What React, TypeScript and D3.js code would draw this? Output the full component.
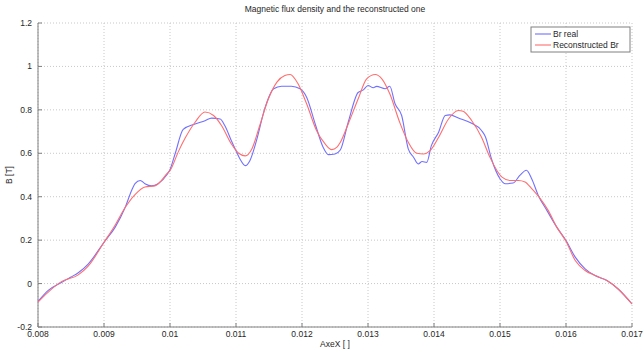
import * as d3 from "d3";

const xTicks = [0.008, 0.009, 0.01, 0.011, 0.012, 0.013, 0.014, 0.015, 0.016, 0.017];
const yTicks = [-0.2, 0, 0.2, 0.4, 0.6, 0.8, 1, 1.2];

const realX = [0.008, 0.00816, 0.00836, 0.0085, 0.00861, 0.00876, 0.009, 0.00917, 0.00932, 0.00942, 0.00947, 0.00955, 0.00962, 0.00972, 0.00982, 0.00995, 0.01, 0.01008, 0.0102, 0.01038, 0.01053, 0.01063, 0.01076, 0.01083, 0.01093, 0.011, 0.01106, 0.01114, 0.01121, 0.01131, 0.01144, 0.01157, 0.01169, 0.01184, 0.01197, 0.01207, 0.0122, 0.01232, 0.0124, 0.0125, 0.01258, 0.0127, 0.01285, 0.01293, 0.013, 0.01308, 0.01313, 0.01326, 0.01333, 0.01341, 0.01351, 0.01361, 0.01369, 0.01376, 0.01382, 0.01389, 0.01396, 0.01407, 0.01417, 0.01424, 0.01437, 0.01457, 0.01472, 0.01478, 0.01487, 0.015, 0.01508, 0.0152, 0.0153, 0.0154, 0.01548, 0.01558, 0.01571, 0.01586, 0.016, 0.01614, 0.01629, 0.01644, 0.01662, 0.01679, 0.017];
const realB = [-0.082, -0.03, 0.006, 0.03, 0.05, 0.09, 0.19, 0.26, 0.35, 0.43, 0.46, 0.475, 0.46, 0.45, 0.46, 0.5, 0.525, 0.6, 0.71, 0.735, 0.75, 0.762, 0.758, 0.728, 0.658, 0.612, 0.574, 0.543, 0.566, 0.658, 0.81, 0.897, 0.909, 0.909, 0.897, 0.858, 0.735, 0.628, 0.594, 0.597, 0.615, 0.743, 0.88, 0.892, 0.912, 0.902, 0.908, 0.897, 0.909, 0.828, 0.774, 0.62, 0.582, 0.551, 0.562, 0.558, 0.635, 0.697, 0.774, 0.777, 0.762, 0.738, 0.705, 0.675, 0.575, 0.483, 0.46, 0.463, 0.498, 0.522, 0.483, 0.406, 0.337, 0.26, 0.198, 0.122, 0.068, 0.037, 0.014, -0.025, -0.094];

const recX = [0.008, 0.00836, 0.00861, 0.00876, 0.009, 0.00917, 0.00932, 0.00947, 0.00962, 0.00977, 0.00987, 0.00995, 0.01, 0.01013, 0.01023, 0.01038, 0.01053, 0.01066, 0.01078, 0.01093, 0.01104, 0.01114, 0.01124, 0.01136, 0.01149, 0.01162, 0.01174, 0.01182, 0.01194, 0.01207, 0.01222, 0.01235, 0.01245, 0.01253, 0.01258, 0.0127, 0.01285, 0.01298, 0.01311, 0.01321, 0.01333, 0.01348, 0.01361, 0.01374, 0.01384, 0.01394, 0.01407, 0.01422, 0.01437, 0.01444, 0.01457, 0.01472, 0.01485, 0.01503, 0.01515, 0.01528, 0.01538, 0.01548, 0.01561, 0.01573, 0.01586, 0.016, 0.01614, 0.01629, 0.01644, 0.01662, 0.01679, 0.017];
const recB = [-0.085, 0.01, 0.04, 0.08, 0.19, 0.27, 0.35, 0.41, 0.445, 0.45, 0.475, 0.505, 0.52, 0.61, 0.67, 0.743, 0.79, 0.774, 0.728, 0.643, 0.6, 0.588, 0.62, 0.728, 0.85, 0.928, 0.958, 0.963, 0.92, 0.828, 0.705, 0.643, 0.617, 0.628, 0.65, 0.735, 0.85, 0.943, 0.963, 0.943, 0.874, 0.743, 0.651, 0.6, 0.597, 0.612, 0.674, 0.758, 0.797, 0.794, 0.751, 0.674, 0.58, 0.49, 0.475, 0.475, 0.468, 0.437, 0.391, 0.337, 0.26, 0.195, 0.106, 0.06, 0.037, 0.014, -0.025, -0.094];

const W = 643;
const H = 354;
const left = 38;
const right = 632;
const top = 23;
const bottom = 327;
const font = "'Liberation Sans', Arial, sans-serif";

export default function App() {
  const x = d3.scaleLinear().domain([0.008, 0.017]).range([left, right]);
  const y = d3.scaleLinear().domain([-0.2, 1.2]).range([bottom, top]);

  const line = (xs: number[], ys: number[]) =>
    d3
      .line<number>()
      .x((_, i) => x(xs[i]))
      .y((d) => y(d))
      .curve(d3.curveMonotoneX)(ys) || "";

  const fmt = (v: number) => String(+v.toFixed(3));

  return (
    <svg
      width={W}
      height={H}
      style={{ position: "fixed", left: 0, top: 0, background: "#fff" }}
      fontFamily={font}
    >
      {/* grid */}
      {xTicks.map((t) => (
        <line key={"gx" + t} x1={x(t)} x2={x(t)} y1={top} y2={bottom} stroke="#c8c8c8" strokeWidth={1} strokeDasharray="1,2" />
      ))}
      {yTicks.map((t) => (
        <line key={"gy" + t} x1={left} x2={right} y1={y(t)} y2={y(t)} stroke="#c8c8c8" strokeWidth={1} strokeDasharray="1,2" />
      ))}

      {/* axes */}
      <line x1={left} x2={left} y1={top} y2={bottom} stroke="#808080" />
      <line x1={left} x2={right} y1={bottom} y2={bottom} stroke="#808080" />
      {xTicks.map((t) => (
        <line key={"tx" + t} x1={x(t)} x2={x(t)} y1={bottom} y2={bottom - 4} stroke="#808080" />
      ))}
      {yTicks.map((t) => (
        <line key={"ty" + t} x1={left} x2={left + 4} y1={y(t)} y2={y(t)} stroke="#808080" />
      ))}

      {/* tick labels */}
      {xTicks.map((t) => (
        <text key={"lx" + t} x={x(t)} y={bottom + 10} fontSize={8.5} textAnchor="middle" fill="#262626">
          {fmt(t)}
        </text>
      ))}
      {yTicks.map((t) => (
        <text key={"ly" + t} x={left - 6} y={y(t) + 3} fontSize={8.5} textAnchor="end" fill="#262626">
          {fmt(t)}
        </text>
      ))}

      {/* series */}
      <path d={line(realX, realB)} fill="none" stroke="#7070ff" strokeWidth={1.1} />
      <path d={line(recX, recB)} fill="none" stroke="#ff6e6e" strokeWidth={1.1} />

      {/* title and labels */}
      <text x={(left + right) / 2} y={12} fontSize={8.5} textAnchor="middle" fill="#262626">
        Magnetic flux density and the reconstructed one
      </text>
      <text x={(left + right) / 2} y={347} fontSize={8.5} textAnchor="middle" fill="#262626">
        AxeX [ ]
      </text>
      <text transform={`translate(12,${(top + bottom) / 2}) rotate(-90)`} fontSize={8.5} textAnchor="middle" fill="#262626">
        B [T]
      </text>

      {/* legend */}
      <rect x={531} y={27} width={99} height={25} fill="#fff" stroke="#808080" />
      <line x1={535} x2={551} y1={34} y2={34} stroke="#7070ff" strokeWidth={1.1} />
      <text x={553} y={37} fontSize={8.5} fill="#262626">Br real</text>
      <line x1={535} x2={551} y1={45} y2={45} stroke="#ff6e6e" strokeWidth={1.1} />
      <text x={553} y={48} fontSize={8.5} fill="#262626">Reconstructed Br</text>
    </svg>
  );
}
